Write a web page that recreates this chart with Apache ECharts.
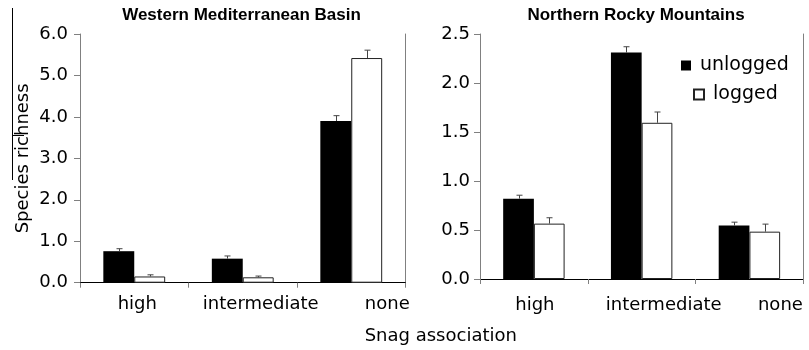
<!DOCTYPE html>
<html>
<head>
<meta charset="utf-8">
<script src="https://cdn.jsdelivr.net/npm/echarts@6/dist/echarts.min.js"></script>
<style>html,body{margin:0;padding:0;background:#fff;}#c{width:809px;height:350px;}</style>
</head>
<body>
<div id="c"></div>
<script>
// ---- data ----
const categories = ['high', 'intermediate', 'none'];
const seriesNames = ['unlogged', 'logged'];
const panelTitles = ['Western Mediterranean Basin', 'Northern Rocky Mountains'];
const yTitle = 'Species richness';
const xTitle = 'Snag association';
// Western Mediterranean Basin
const wmbUnlogged   = [0.76, 0.58, 3.90];
const wmbUnloggedSE = [0.06, 0.065, 0.13];
const wmbLogged     = [0.15, 0.13, 5.42];
const wmbLoggedSE   = [0.04, 0.03, 0.19];
const wmbTicks = [0, 1, 2, 3, 4, 5, 6];
// Northern Rocky Mountains
const nrmUnlogged   = [0.82, 2.31, 0.545];
const nrmUnloggedSE = [0.035, 0.06, 0.035];
const nrmLogged     = [0.565, 1.594, 0.483];
const nrmLoggedSE   = [0.06, 0.11, 0.077];
const nrmTicks = [0, 0.5, 1, 1.5, 2, 2.5];

// ---- style / layout ----
const FONT = 'DejaVu Sans';
const TITLE_FONT = 'bold 17px "Liberation Sans", Arial, sans-serif';
const GRAY = '#808080';
const BAR_FRAC = 0.57;
const labelShift = [[3, 18, 36], [1, 22, 31]];

function errRender(side) {
  return function (params, api) {
    const i = api.value(0), v = api.value(1), e = api.value(2);
    const band = api.size([1, 0])[0];
    const off = side * band * BAR_FRAC / 4;
    const p0 = api.coord([i, v]);
    const p1 = api.coord([i, v + e]);
    const x = Math.round(p0[0] + off) + 0.5;
    return {
      type: 'group',
      children: [
        { type: 'line', shape: { x1: x, y1: p0[1], x2: x, y2: p1[1] }, style: { stroke: '#444', lineWidth: 1 } },
        { type: 'line', shape: { x1: x - 3, y1: p1[1], x2: x + 3, y2: p1[1] }, style: { stroke: '#444', lineWidth: 1 } }
      ]
    };
  };
}

function xAxes(g, margin) {
  const rich = {};
  labelShift[g].forEach((s, k) => {
    rich['o' + k] = { padding: [0, 0, 0, 2 * s], fontSize: 18, fontFamily: FONT, color: '#000' };
  });
  return [
    {
      gridIndex: g, type: 'category', data: categories, position: 'bottom',
      axisLine: { lineStyle: { color: GRAY, width: 1 } },
      axisTick: { show: true, length: 5, lineStyle: { color: GRAY } },
      axisLabel: {
        interval: 0, margin: margin, fontSize: 18, fontFamily: FONT, color: '#000',
        formatter: (v, k) => '{o' + k + '|' + v + '}', rich: rich
      }
    },
    {
      gridIndex: g, type: 'category', data: categories, position: 'top',
      axisLine: { lineStyle: { color: '#000', width: 1 } },
      axisTick: { show: false }, axisLabel: { show: false }
    }
  ];
}

function yAxes(g, ticks, margin, name) {
  const min = ticks[0], max = ticks[ticks.length - 1], interval = ticks[1] - ticks[0];
  const main = {
    gridIndex: g, type: 'value', min: min, max: max, interval: interval, position: 'left',
    axisLine: { show: true, lineStyle: { color: GRAY, width: 1 } },
    axisTick: { show: true, length: 6, lineStyle: { color: GRAY } },
    splitLine: { show: false },
    axisLabel: { margin: margin, fontSize: 18, fontFamily: FONT, color: '#000', formatter: v => v.toFixed(1) }
  };
  if (name) {
    main.name = name;
    main.nameLocation = 'middle';
    main.nameGap = 48;
    main.nameTextStyle = { fontSize: 18, fontFamily: FONT, color: '#000' };
  }
  return [main, {
    gridIndex: g, type: 'value', min: min, max: max, interval: interval, position: 'right',
    axisLine: { show: true, lineStyle: { color: GRAY, width: 1 } },
    axisTick: { show: false }, axisLabel: { show: false }, splitLine: { show: false }
  }];
}

function barSeries(g, name, data, black) {
  return {
    type: 'bar', name: name, xAxisIndex: 2 * g, yAxisIndex: 2 * g, data: data,
    barGap: '0%', barCategoryGap: (100 - BAR_FRAC * 100) + '%',
    itemStyle: black ? { color: '#000' } : { color: '#fff', borderColor: '#222', borderWidth: 1 },
    z: 2
  };
}

function errSeries(g, vals, se, side) {
  return {
    type: 'custom', name: 'err', xAxisIndex: 2 * g, yAxisIndex: 2 * g,
    data: vals.map((v, i) => [i, v, se[i]]),
    encode: { x: 0, y: 1 },
    renderItem: errRender(side), z: 3, silent: true
  };
}

const legendText = { fontSize: 19, fontFamily: FONT, color: '#000', padding: [0, 0, 0, 4] };

const option = {
  animation: false,
  backgroundColor: '#fff',
  grid: [
    { left: 80, top: 34, right: 403.5, bottom: 67.3 },
    { left: 480, top: 34, right: 5.7, bottom: 71 }
  ],
  legend: [
    { data: [seriesNames[0]], left: 676, top: 51, orient: 'vertical', icon: 'rect', itemWidth: 10, itemHeight: 10, textStyle: legendText, selectedMode: false },
    { data: [seriesNames[1]], left: 688, top: 80, orient: 'vertical', icon: 'rect', itemWidth: 10, itemHeight: 10, textStyle: legendText, selectedMode: false }
  ],
  xAxis: [...xAxes(0, 13), ...xAxes(1, 17)],
  yAxis: [...yAxes(0, wmbTicks, 12, yTitle), ...yAxes(1, nrmTicks, 10, null)],
  series: [
    barSeries(0, seriesNames[0], wmbUnlogged, true),
    barSeries(0, seriesNames[1], wmbLogged, false),
    barSeries(1, seriesNames[0], nrmUnlogged, true),
    barSeries(1, seriesNames[1], nrmLogged, false),
    errSeries(0, wmbUnlogged, wmbUnloggedSE, -1),
    errSeries(0, wmbLogged, wmbLoggedSE, 1),
    errSeries(1, nrmUnlogged, nrmUnloggedSE, -1),
    errSeries(1, nrmLogged, nrmLoggedSE, 1)
  ],
  graphic: [
    { type: 'text', x: 241.5, y: 15, style: { text: panelTitles[0], font: TITLE_FONT, fill: '#000', align: 'center', verticalAlign: 'middle' } },
    { type: 'text', x: 636, y: 15, style: { text: panelTitles[1], font: TITLE_FONT, fill: '#000', align: 'center', verticalAlign: 'middle' } },
    { type: 'text', x: 440.8, y: 336, style: { text: xTitle, font: '18px "' + FONT + '"', fill: '#000', align: 'center', verticalAlign: 'middle' } },
    { type: 'line', shape: { x1: 12.5, y1: 8, x2: 12.5, y2: 180 }, style: { stroke: '#000', lineWidth: 1 } },
    { type: 'line', shape: { x1: 12.5, y1: 135.5, x2: 24, y2: 135.5 }, style: { stroke: '#000', lineWidth: 1 } }
  ]
};

const chart = echarts.init(document.getElementById('c'), null, { renderer: 'canvas' });
chart.setOption(option);
</script>
</body>
</html>
